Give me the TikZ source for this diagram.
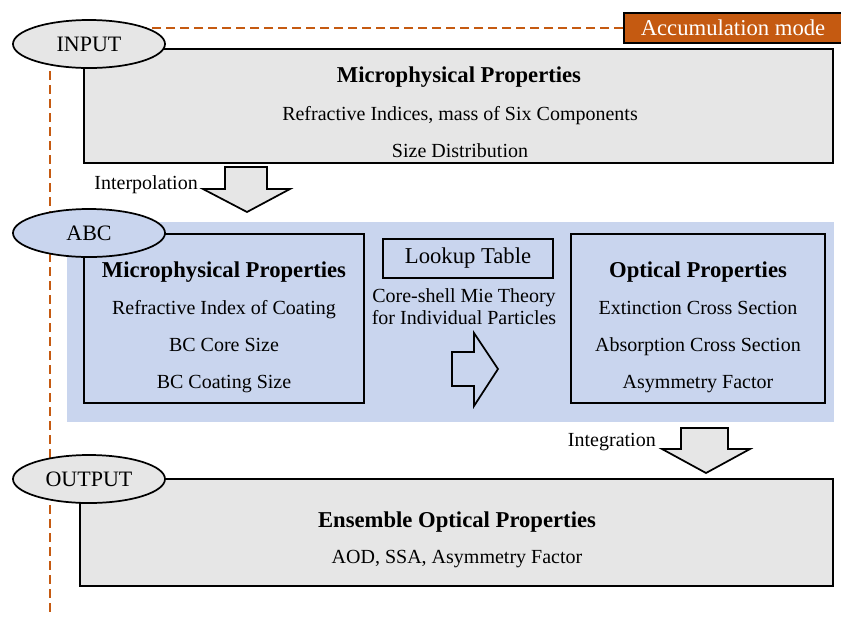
\documentclass[tikz,border=0pt]{standalone}
\usepackage{fontspec}
\setmainfont{Liberation Serif}
\usetikzlibrary{shapes.geometric}

\definecolor{boxgray}{HTML}{E6E6E6}
\definecolor{abcblue}{HTML}{C9D5EE}
\definecolor{modeorange}{HTML}{C55A11}

\tikzset{
	graybox/.style={draw, line width=1.7pt, fill=boxgray, inner sep=0pt},
	plainbox/.style={draw, line width=1.7pt, inner sep=0pt},
	tag/.style={ellipse, draw, line width=1.3pt, minimum width=114pt, minimum height=36pt, inner sep=0pt, font=\fontsize{16.5}{18}\selectfont},
	title/.style={inner sep=0pt, text height=11.5pt, text depth=0pt, font=\fontsize{17}{20}\selectfont\bfseries},
	body/.style={inner sep=0pt, text height=10.2pt, text depth=0pt, font=\fontsize{15}{18}\selectfont},
	blockarrow/.style={draw, line width=1.3pt, fill=boxgray, line join=miter},
	modeline/.style={draw=modeorange, line width=1.3pt, dash pattern=on 6.5pt off 4pt},
}

\begin{document}
\begin{tikzpicture}[x=0.75pt,y=-0.75pt]
	\useasboundingbox (0,0) rectangle (841,619);
	
	% ABC background
	\node[fill=abcblue, minimum width=575.25pt, minimum height=150pt, inner sep=0pt] (abcbg) at (450.5,322) {};
	
	% accumulation mode marker
	\node[draw, line width=1.5pt, fill=modeorange, minimum width=163.5pt, minimum height=22.5pt, inner sep=0pt, text=white, font=\fontsize{17}{20}\selectfont] (mode) at (733,28) {Accumulation mode};
	\coordinate (dashtop) at (50,71);
	\coordinate (dashend) at (50,612);
	\draw[modeline] (mode.west) -- (mode.west -| 89,0);
	\draw[modeline] (dashtop) -- (dashend);
	
	% input
	\node[graybox, minimum width=561.75pt, minimum height=85.5pt] (inbox) at (458.5,106) {};
	\node[title] (intitle) at (459,75) {Microphysical Properties};
	\node[body] (inline1) at (460,114) {Refractive Indices, mass of Six Components};
	\node[body] (inline2) at (460,151) {Size Distribution};
	\node[tag, fill=boxgray] (input) at (89,44) {INPUT};
	
	\draw[blockarrow] (225,167) -- (267,167) -- (267,189) -- (290,189) -- (247,212) -- (203,189) -- (225,189) -- cycle;
	\node[body, anchor=east] (interp) at (198,183) {Interpolation};
	
	% ABC
	\node[plainbox, minimum width=210pt, minimum height=126.75pt] (micbox) at (224,318.5) {};
	\node[title] (mictitle) at (224,270) {Microphysical Properties};
	\node[body] (micline1) at (224,308) {Refractive Index of Coating};
	\node[body] (micline2) at (224,345) {BC Core Size};
	\node[body] (micline3) at (224,382) {BC Coating Size};
	\node[tag, fill=abcblue] (abc) at (89,233) {ABC};
	
	\node[draw, line width=1.3pt, minimum width=127.5pt, minimum height=29.25pt, inner sep=0pt, font=\fontsize{17}{20}\selectfont] (lookup) at (468,258.5) {Lookup Table};
	\node[body] (mie1) at (464,296) {Core-shell Mie Theory};
	\node[body] (mie2) at (464,318) {for Individual Particles};
	\draw[blockarrow, fill=abcblue] (452,352) -- (474,352) -- (474,333) -- (498,369) -- (474,406) -- (474,386) -- (452,386) -- cycle;
	
	\node[plainbox, minimum width=190.5pt, minimum height=126.75pt] (optbox) at (698,318.5) {};
	\node[title] (opttitle) at (698,270) {Optical Properties};
	\node[body] (optline1) at (698,308) {Extinction Cross Section};
	\node[body] (optline2) at (698,345) {Absorption Cross Section};
	\node[body] (optline3) at (698,382) {Asymmetry Factor};
	
	\draw[blockarrow] (681,428) -- (728,428) -- (728,449) -- (750,449) -- (706,473) -- (662,449) -- (681,449) -- cycle;
	\node[body, anchor=east] (integ) at (656,440) {Integration};
	
	% output
	\node[graybox, minimum width=564.75pt, minimum height=80.25pt] (outbox) at (456.5,532.5) {};
	\node[title] (outtitle) at (457,520) {Ensemble Optical Properties};
	\node[body] (outline) at (457,557) {AOD, SSA, Asymmetry Factor};
	\node[tag, fill=boxgray] (output) at (89,479) {OUTPUT};
\end{tikzpicture}
\end{document}
